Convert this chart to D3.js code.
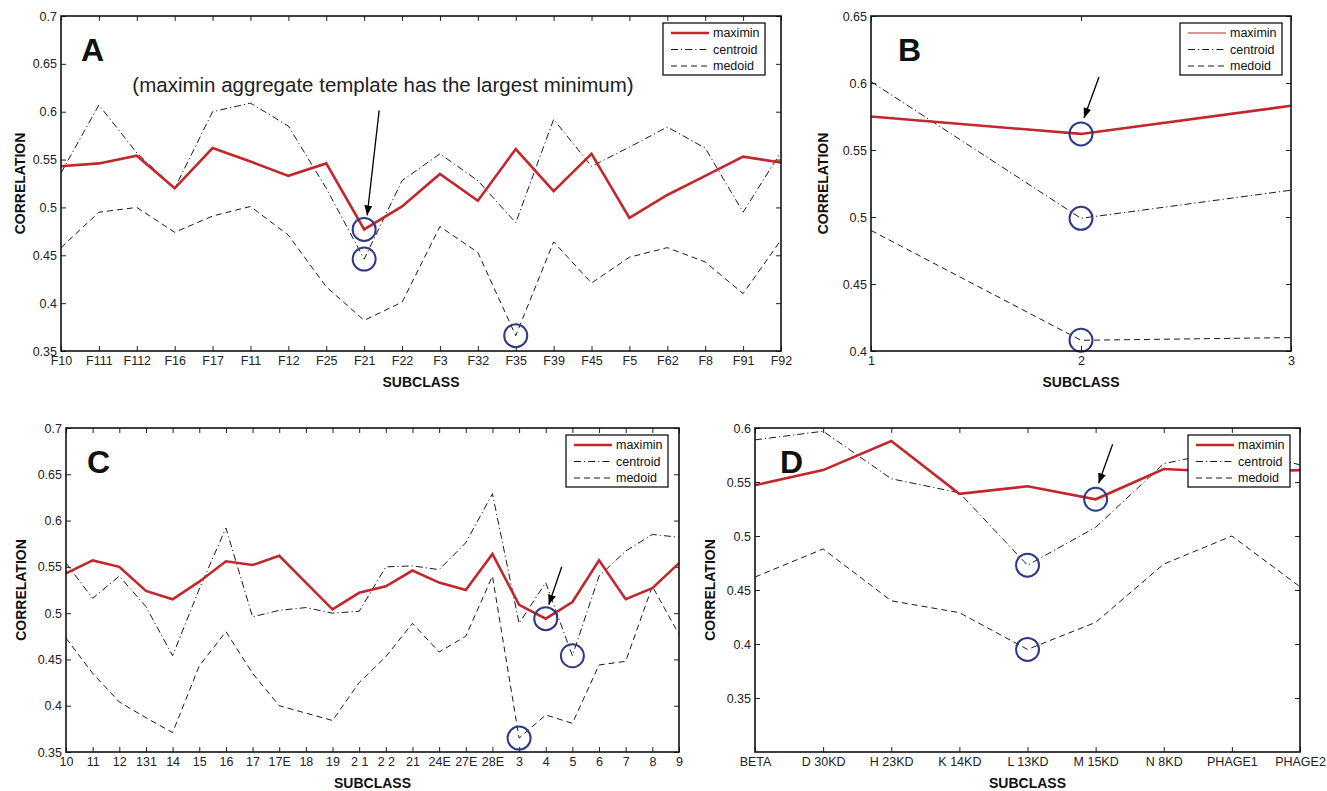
<!DOCTYPE html>
<html>
<head>
<meta charset="utf-8">
<script src="https://cdn.jsdelivr.net/npm/d3@7/dist/d3.min.js"></script>
<style>
  body { margin: 0; background: #fff; }
  svg text { font-family: "Liberation Sans", Arial, sans-serif; }
</style>
</head>
<body>
<svg id="fig" width="1327" height="791"></svg>
<script>
// ---- data ----
var catsA = ["F10","F111","F112","F16","F17","F11","F12","F25","F21","F22","F3","F32","F35","F39","F45","F5","F62","F8","F91","F92"];
var maximinA  = [0.543,0.546,0.554,0.520,0.562,0.548,0.533,0.546,0.477,0.501,0.535,0.507,0.561,0.517,0.556,0.489,0.513,0.533,0.553,0.547];
var centroidA = [0.536,0.607,0.557,0.520,0.600,0.609,0.585,0.520,0.446,0.528,0.556,0.528,0.484,0.592,0.543,0.563,0.584,0.562,0.495,0.558];
var medoidA   = [0.458,0.495,0.500,0.474,0.491,0.501,0.471,0.417,0.382,0.401,0.480,0.453,0.366,0.464,0.421,0.448,0.458,0.443,0.410,0.466];
var yTicksA = [0.35,0.4,0.45,0.5,0.55,0.6,0.65,0.7];

var catsB = [1,2,3];
var maximinB  = [0.575,0.562,0.583];
var centroidB = [0.601,0.499,0.520];
var medoidB   = [0.490,0.408,0.410];
var yTicksB = [0.4,0.45,0.5,0.55,0.6,0.65];

var catsC = ["10","11","12","131","14","15","16","17","17E","18","19","2 1","2 2","21","24E","27E","28E","3","4","5","6","7","8","9"];
var maximinC  = [0.543,0.557,0.550,0.524,0.515,0.534,0.556,0.552,0.562,0.533,0.504,0.522,0.529,0.546,0.533,0.525,0.564,0.509,0.494,0.512,0.557,0.515,0.527,0.554];
var centroidC = [0.554,0.516,0.540,0.507,0.454,0.526,0.592,0.496,0.503,0.506,0.500,0.502,0.550,0.551,0.547,0.576,0.629,0.489,0.533,0.454,0.540,0.567,0.585,0.582];
var medoidC   = [0.473,0.435,0.404,0.387,0.371,0.443,0.480,0.435,0.400,0.392,0.384,0.425,0.453,0.489,0.458,0.475,0.540,0.365,0.390,0.381,0.444,0.448,0.529,0.477];
var yTicksC = [0.35,0.4,0.45,0.5,0.55,0.6,0.65,0.7];

var catsD = ["BETA","D 30KD","H 23KD","K 14KD","L 13KD","M 15KD","N 8KD","PHAGE1","PHAGE2"];
var maximinD  = [0.547,0.561,0.588,0.539,0.546,0.534,0.562,0.559,0.561];
var centroidD = [0.589,0.597,0.553,0.540,0.473,0.508,0.567,0.580,0.566];
var medoidD   = [0.462,0.488,0.440,0.429,0.395,0.420,0.474,0.500,0.453];
var yTicksD = [0.35,0.4,0.45,0.5,0.55,0.6];

var seriesNames = ["maximin","centroid","medoid"];

// ---- styles ----
var RED = "#c1272d", NAVY = "#2f3a86", INK = "#1a1a1a";
var styles = {
  maximin:  {stroke: RED,  width: 2.6, dash: null},
  centroid: {stroke: INK,  width: 1,   dash: "7,3,1.2,3"},
  medoid:   {stroke: INK,  width: 1,   dash: "6,4"}
};

var svg = d3.select("#fig");
svg.append("rect").attr("width", 1327).attr("height", 791).attr("fill", "#fff");

svg.append("defs").append("marker")
    .attr("id", "arrowhead")
    .attr("viewBox", "0 0 10 8")
    .attr("refX", 10).attr("refY", 4)
    .attr("markerWidth", 10).attr("markerHeight", 8)
    .attr("markerUnits", "userSpaceOnUse")
    .attr("orient", "auto")
  .append("path").attr("d", "M0,0 L10,4 L0,8 z").attr("fill", "#000");

var fmt = function(d){ return String(+d.toFixed(2)); };

function drawPanel(p) {
  var g = svg.append("g").attr("transform", "translate(" + p.left + "," + p.top + ")");
  var w = p.width, h = p.height;

  var x;
  if (p.numericX) {
    x = d3.scaleLinear().domain(d3.extent(p.cats)).range([0, w]);
  } else {
    x = d3.scalePoint().domain(p.cats).range([0, w]);
  }
  var y = d3.scaleLinear().domain(p.yDomain).range([h, 0]);

  // axes, ticks pointing inward on all four sides
  var xb = d3.axisBottom(x).tickSize(-5).tickSizeOuter(0).tickPadding(5);
  var xt = d3.axisTop(x).tickSize(-5).tickSizeOuter(0).tickFormat("");
  if (p.numericX) { xb.tickValues(p.cats).tickFormat(fmt); xt.tickValues(p.cats); }
  var yl = d3.axisLeft(y).tickValues(p.yTicks).tickFormat(fmt).tickSize(-5).tickSizeOuter(0).tickPadding(4);
  var yr = d3.axisRight(y).tickValues(p.yTicks).tickFormat("").tickSize(-5).tickSizeOuter(0);

  var axes = [
    g.append("g").attr("transform", "translate(0," + h + ")").call(xb),
    g.append("g").call(xt),
    g.append("g").call(yl),
    g.append("g").attr("transform", "translate(" + w + ",0)").call(yr)
  ];
  axes.forEach(function(a){
    a.select(".domain").remove();
    a.selectAll(".tick line").attr("stroke", "#222").attr("stroke-width", 1);
    a.selectAll(".tick text").attr("fill", "#222").style("font-size", "12.5px");
  });

  // lines
  var line = d3.line()
      .x(function(d, i){ return x(p.cats[i]); })
      .y(function(d){ return y(d); });

  // dashed ones first so the red line sits on top
  ["medoid","centroid","maximin"].forEach(function(name){
    var st = styles[name];
    g.append("path")
      .datum(p.series[name])
      .attr("d", line)
      .attr("fill", "none")
      .attr("stroke", st.stroke)
      .attr("stroke-width", st.width)
      .attr("stroke-dasharray", st.dash)
      .attr("stroke-linejoin", "miter");
  });

  // highlighted minima
  p.circles.forEach(function(c){
    var i = p.cats.indexOf(c[1]);
    g.append("circle")
      .attr("cx", x(c[1]))
      .attr("cy", y(p.series[c[0]][i]))
      .attr("r", 11.5)
      .attr("fill", "none")
      .attr("stroke", NAVY)
      .attr("stroke-width", 2);
  });

  // arrow to the maximin minimum
  var ai = p.cats.indexOf(p.arrow.cat);
  var tipX = x(p.arrow.cat) + p.arrow.tx, tipY = y(p.series.maximin[ai]) - p.arrow.gap;
  g.append("line")
    .attr("x1", tipX + p.arrow.dx).attr("y1", tipY + p.arrow.dy)
    .attr("x2", tipX).attr("y2", tipY)
    .attr("stroke", "#000").attr("stroke-width", 1.3)
    .attr("marker-end", "url(#arrowhead)");

  // frame
  g.append("rect").attr("width", w).attr("height", h)
    .attr("fill", "none").attr("stroke", "#111").attr("stroke-width", 1.6);

  // panel letter
  g.append("text").attr("x", p.letterX).attr("y", 45)
    .style("font-size", "32px").style("font-weight", "bold").attr("fill", "#111")
    .text(p.letter);

  // axis titles
  g.append("text")
    .attr("transform", "translate(" + p.yLabelX + "," + (h / 2) + ") rotate(-90)")
    .attr("text-anchor", "middle").attr("dy", "0.35em")
    .style("font-size", "14px").style("font-weight", "bold").attr("fill", "#111")
    .text("CORRELATION");
  g.append("text")
    .attr("x", w / 2).attr("y", h + 36)
    .attr("text-anchor", "middle")
    .style("font-size", "14px").style("font-weight", "bold").attr("fill", "#111")
    .text("SUBCLASS");

  // legend
  var lg = g.append("g").attr("transform", "translate(" + (w - p.legendRight) + ",7)");
  lg.append("rect").attr("width", 102).attr("height", 52)
    .attr("fill", "#fff").attr("stroke", "#111").attr("stroke-width", 1.3);
  seriesNames.forEach(function(name, k){
    var st = styles[name];
    var ly = 10 + k * 16.5;
    lg.append("line").attr("x1", 8).attr("x2", 46).attr("y1", ly).attr("y2", ly)
      .attr("stroke", st.stroke)
      .attr("stroke-width", name === "maximin" ? p.legendRedWidth : st.width)
      .attr("stroke-dasharray", st.dash);
    lg.append("text").attr("x", 50).attr("y", ly).attr("dy", "0.35em")
      .style("font-size", "12.5px").attr("fill", "#111").text(name);
  });

  return {g: g, x: x, y: y};
}

var pA = drawPanel({
  left: 61, top: 16, width: 720, height: 335,
  cats: catsA, yDomain: [0.35, 0.7], yTicks: yTicksA,
  series: {maximin: maximinA, centroid: centroidA, medoid: medoidA},
  circles: [["maximin","F21"],["centroid","F21"],["medoid","F35"]],
  arrow: {cat: "F21", tx: 3, gap: 14, dx: 12, dy: -105},
  letter: "A", letterX: 20, yLabelX: -41, legendRight: 118, legendRedWidth: 2.6
});
pA.g.append("text")
  .attr("x", 322).attr("y", 76)
  .attr("text-anchor", "middle")
  .style("font-size", "20.5px").attr("fill", "#222")
  .text("(maximin aggregate template has the largest minimum)");

drawPanel({
  left: 871, top: 16, width: 420, height: 335,
  cats: catsB, numericX: true, yDomain: [0.4, 0.65], yTicks: yTicksB,
  series: {maximin: maximinB, centroid: centroidB, medoid: medoidB},
  circles: [["maximin",2],["centroid",2],["medoid",2]],
  arrow: {cat: 2, tx: 3, gap: 16, dx: 15, dy: -41},
  letter: "B", letterX: 27, yLabelX: -48, legendRight: 111, legendRedWidth: 1.2
});

drawPanel({
  left: 66, top: 428, width: 613, height: 324,
  cats: catsC, yDomain: [0.35, 0.7], yTicks: yTicksC,
  series: {maximin: maximinC, centroid: centroidC, medoid: medoidC},
  circles: [["maximin","4"],["centroid","5"],["medoid","3"]],
  arrow: {cat: "4", tx: 3, gap: 14, dx: 13, dy: -38},
  letter: "C", letterX: 21, yLabelX: -45, legendRight: 113, legendRedWidth: 2.6
});

drawPanel({
  left: 755, top: 428, width: 545, height: 324,
  cats: catsD, yDomain: [0.3, 0.6], yTicks: yTicksD,
  series: {maximin: maximinD, centroid: centroidD, medoid: medoidD},
  circles: [["maximin","M 15KD"],["centroid","L 13KD"],["medoid","L 13KD"]],
  arrow: {cat: "M 15KD", tx: 3, gap: 16, dx: 14, dy: -39},
  letter: "D", letterX: 25, yLabelX: -45, legendRight: 112, legendRedWidth: 2.6
});
</script>
</body>
</html>
